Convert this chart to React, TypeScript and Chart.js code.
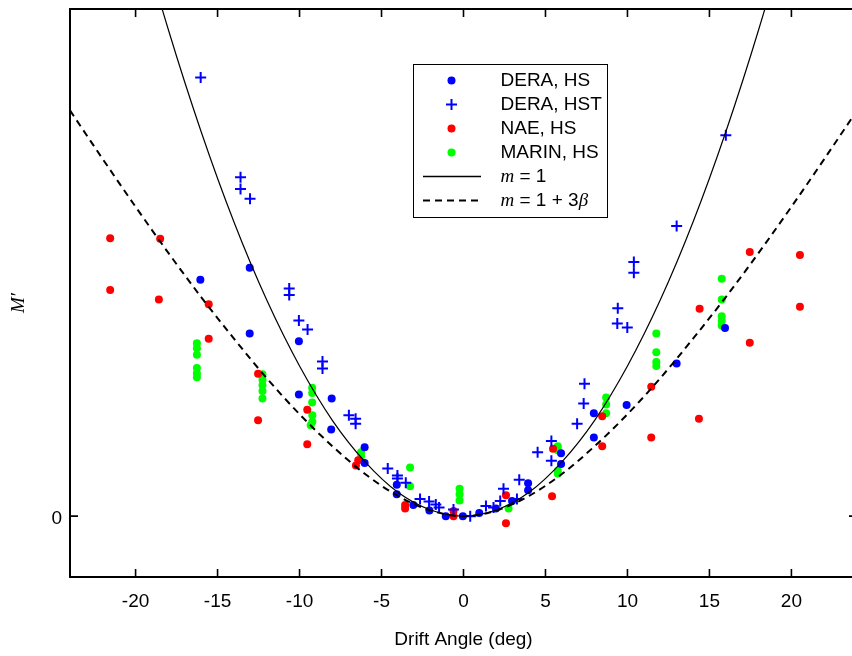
import React, { useEffect, useRef } from "react";
import { Chart, registerables } from "chart.js";

Chart.register(...registerables);

// ---------- data ----------
const xTickValues = [-20, -15, -10, -5, 0, 5, 10, 15, 20];
const yTickValues = [0];
const xTitle = "Drift Angle (deg)";
const yTitle = "M\u2032";

const deraHS: number[][] = [
  [-16.05, 0.466], [-13.04, 0.49], [-13.04, 0.36], [-10.04, 0.345], [-10.04, 0.24],
  [-8.04, 0.232], [-8.07, 0.171], [-6.03, 0.136], [-6.03, 0.105], [-4.07, 0.062],
  [-4.07, 0.043], [-3.06, 0.022], [-2.08, 0.011], [-1.08, 0.0], [-0.04, 0.0],
  [0.96, 0.006], [1.98, 0.015], [2.96, 0.03], [3.94, 0.065], [3.94, 0.051],
  [5.95, 0.124], [5.95, 0.103], [7.95, 0.203], [7.95, 0.155], [9.95, 0.219],
  [13.0, 0.301], [15.95, 0.371],
];

const deraHST: number[][] = [
  [-16.03, 0.865], [-13.6, 0.668], [-13.6, 0.645], [-13.02, 0.626], [-10.63, 0.449],
  [-10.63, 0.436], [-10.04, 0.386], [-9.51, 0.368], [-8.6, 0.305], [-8.6, 0.291],
  [-6.99, 0.199], [-6.58, 0.192], [-6.58, 0.182], [-4.62, 0.094], [-4.03, 0.08],
  [-4.03, 0.074], [-3.52, 0.066], [-2.65, 0.034], [-2.1, 0.029], [-1.69, 0.023],
  [-1.49, 0.017], [-0.61, 0.013], [0.41, 0.0], [1.37, 0.02], [1.83, 0.017],
  [2.24, 0.03], [2.44, 0.054], [3.26, 0.034], [3.4, 0.072], [4.52, 0.126],
  [5.36, 0.148], [5.36, 0.109], [6.93, 0.182], [7.33, 0.222], [7.38, 0.261],
  [9.41, 0.41], [9.38, 0.38], [9.99, 0.372], [10.39, 0.501], [10.39, 0.48],
  [13.0, 0.572], [16.0, 0.751],
];

const naeHS: number[][] = [
  [-21.55, 0.548], [-21.55, 0.446], [-18.5, 0.547], [-18.58, 0.427], [-15.54, 0.418],
  [-15.54, 0.35], [-12.53, 0.281], [-12.53, 0.189], [-9.53, 0.21], [-9.53, 0.142],
  [-6.42, 0.11], [-6.56, 0.1], [-3.56, 0.022], [-3.56, 0.015], [-0.61, 0.01],
  [-0.61, 0.0], [2.59, 0.041], [2.59, -0.014], [5.46, 0.133], [5.4, 0.039],
  [8.46, 0.197], [8.46, 0.138], [11.45, 0.255], [11.45, 0.155], [14.4, 0.409],
  [14.36, 0.192], [17.46, 0.521], [17.46, 0.342], [20.52, 0.515], [20.52, 0.413],
];

const marinHS: number[][] = [
  [-16.26, 0.341], [-16.26, 0.331], [-16.26, 0.318], [-16.26, 0.292], [-16.26, 0.282], [-16.26, 0.274],
  [-12.26, 0.28], [-12.26, 0.269], [-12.26, 0.258], [-12.26, 0.247], [-12.26, 0.232],
  [-9.23, 0.253], [-9.23, 0.243], [-9.23, 0.224], [-9.22, 0.199], [-9.22, 0.186], [-9.32, 0.179],
  [-6.25, 0.126], [-6.25, 0.118], [-3.26, 0.096], [-3.26, 0.059],
  [-0.24, 0.054], [-0.24, 0.043], [-0.24, 0.031], [2.75, 0.015],
  [5.75, 0.138], [5.75, 0.13], [5.75, 0.089], [5.75, 0.084],
  [8.7, 0.234], [8.7, 0.22], [8.7, 0.203],
  [11.76, 0.36], [11.76, 0.323], [11.76, 0.304], [11.76, 0.296],
  [15.75, 0.468], [15.75, 0.427], [15.75, 0.394], [15.75, 0.385], [15.75, 0.376],
];

// curves at 2-degree steps
const curveX = [-24, -22, -20, -18, -16, -14, -12, -10, -8, -6, -4, -2, 0, 2, 4, 6, 8, 10, 12, 14, 16, 18, 20, 22, 24];
const curveM1 = [1.705, 1.433, 1.184, 0.959, 0.758, 0.58, 0.426, 0.296, 0.189, 0.107, 0.047, 0.012, 0, 0.012, 0.047, 0.107, 0.189, 0.296, 0.426, 0.58, 0.758, 0.959, 1.184, 1.433, 1.705];
const curveM3b = [0.8, 0.704, 0.61, 0.519, 0.432, 0.35, 0.272, 0.201, 0.138, 0.083, 0.04, 0.011, 0, 0.011, 0.04, 0.083, 0.138, 0.201, 0.272, 0.35, 0.432, 0.519, 0.61, 0.704, 0.8];

// ---------- helpers ----------
const toPts = (arr: number[][]) => arr.map(([x, y]) => ({ x, y }));
const curvePts = (ys: number[]) => curveX.map((x, i) => ({ x, y: ys[i] }));

const SANS = "'Liberation Sans', Arial, sans-serif";
const SERIF = "'Liberation Serif', 'Times New Roman', serif";
const BLUE = "#0000ff";
const RED = "#ff0000";
const GREEN = "#00ff00";

const legendItems = [
  { kind: "dot", color: BLUE, parts: [{ t: "DERA, HS", it: false }] },
  { kind: "cross", color: BLUE, parts: [{ t: "DERA, HST", it: false }] },
  { kind: "dot", color: RED, parts: [{ t: "NAE, HS", it: false }] },
  { kind: "dot", color: GREEN, parts: [{ t: "MARIN, HS", it: false }] },
  { kind: "solid", color: "#000", parts: [{ t: "m", it: true }, { t: " = 1", it: false }] },
  { kind: "dashed", color: "#000", parts: [{ t: "m", it: true }, { t: " = 1 + 3", it: false }, { t: "\u03b2", it: true }] },
];

const framePlugin = {
  id: "frameAndLegend",
  afterDatasetsDraw(chart: any) {
    const { ctx, chartArea } = chart;
    const { left, right, top, bottom } = chartArea;
    const xs = chart.scales.x;
    const ys = chart.scales.y;
    ctx.save();
    ctx.strokeStyle = "#000";
    ctx.lineWidth = 2;
    ctx.strokeRect(left, top, right - left, bottom - top);
    ctx.lineWidth = 1.6;
    ctx.beginPath();
    for (const v of xTickValues) {
      const px = xs.getPixelForValue(v);
      ctx.moveTo(px, bottom);
      ctx.lineTo(px, bottom - 8);
      ctx.moveTo(px, top);
      ctx.lineTo(px, top + 8);
    }
    for (const v of yTickValues) {
      const py = ys.getPixelForValue(v);
      ctx.moveTo(left, py);
      ctx.lineTo(left + 8, py);
      ctx.moveTo(right, py);
      ctx.lineTo(right - 8, py);
    }
    ctx.stroke();
    ctx.restore();
  },
  afterDraw(chart: any) {
    const ctx = chart.ctx;
    ctx.save();
    // y title
    ctx.fillStyle = "#000";
    ctx.font = `italic 19px ${SERIF}`;
    ctx.textAlign = "center";
    ctx.textBaseline = "middle";
    ctx.translate(19, 303);
    ctx.rotate(-Math.PI / 2);
    ctx.fillText(yTitle, 0, 0);
    ctx.restore();

    // legend
    ctx.save();
    const bx = 413.5, by = 64.5, bw = 194, bh = 153;
    ctx.fillStyle = "#fff";
    ctx.fillRect(bx, by, bw, bh);
    ctx.strokeStyle = "#000";
    ctx.lineWidth = 1;
    ctx.strokeRect(bx, by, bw, bh);
    const mx = 451.5;
    const tx = 500.5;
    legendItems.forEach((it, i) => {
      const ry = 80.5 + i * 24;
      if (it.kind === "dot") {
        ctx.fillStyle = it.color;
        ctx.beginPath();
        ctx.arc(mx, ry, 4, 0, Math.PI * 2);
        ctx.fill();
      } else if (it.kind === "cross") {
        ctx.strokeStyle = it.color;
        ctx.lineWidth = 2;
        ctx.setLineDash([]);
        ctx.beginPath();
        ctx.moveTo(mx - 5.5, ry);
        ctx.lineTo(mx + 5.5, ry);
        ctx.moveTo(mx, ry - 5.5);
        ctx.lineTo(mx, ry + 5.5);
        ctx.stroke();
      } else {
        ctx.strokeStyle = "#000";
        ctx.lineWidth = it.kind === "solid" ? 1.5 : 2;
        ctx.setLineDash(it.kind === "dashed" ? [7, 5] : []);
        ctx.beginPath();
        ctx.moveTo(423, ry);
        ctx.lineTo(481, ry);
        ctx.stroke();
        ctx.setLineDash([]);
      }
      ctx.fillStyle = "#000";
      ctx.textAlign = "left";
      ctx.textBaseline = "middle";
      let cx = tx;
      for (const p of it.parts) {
        ctx.font = p.it ? `italic 19px ${SERIF}` : `19px ${SANS}`;
        ctx.fillText(p.t, cx, ry);
        cx += ctx.measureText(p.t).width;
      }
    });
    ctx.restore();
  },
};

export default function App() {
  const ref = useRef<HTMLCanvasElement | null>(null);

  useEffect(() => {
    if (!ref.current) return;
    Chart.defaults.color = "#000";
    Chart.defaults.font.family = SANS;
    Chart.defaults.font.size = 19;

    const pointDs = (label: string, data: number[][], color: string, cross: boolean, order: number) => ({
      type: "scatter" as const,
      label,
      data: toPts(data),
      pointStyle: cross ? "cross" : "circle",
      pointRadius: cross ? 5.5 : 4,
      pointHoverRadius: cross ? 5.5 : 4,
      backgroundColor: color,
      borderColor: color,
      borderWidth: cross ? 2 : 0,
      showLine: false,
      order,
    });

    const chart = new Chart(ref.current, {
      type: "scatter",
      data: {
        datasets: [
          {
            type: "scatter",
            label: "m = 1",
            data: curvePts(curveM1),
            showLine: true,
            borderColor: "#000",
            borderWidth: 1.2,
            pointRadius: 0,
            cubicInterpolationMode: "monotone",
            order: 0,
          } as any,
          {
            type: "scatter",
            label: "m = 1 + 3\u03b2",
            data: curvePts(curveM3b),
            showLine: true,
            borderColor: "#000",
            borderWidth: 2,
            borderDash: [7, 5],
            pointRadius: 0,
            cubicInterpolationMode: "monotone",
            order: 0,
          } as any,
          pointDs("NAE, HS", naeHS, RED, false, 2),
          pointDs("MARIN, HS", marinHS, GREEN, false, 3),
          pointDs("DERA, HS", deraHS, BLUE, false, 1),
          pointDs("DERA, HST", deraHST, BLUE, true, 1),
        ] as any,
      },
      options: {
        animation: false,
        responsive: true,
        maintainAspectRatio: false,
        devicePixelRatio: 1,
        layout: { padding: { top: 9, right: 15, left: 0, bottom: 0 } },
        plugins: {
          legend: { display: false },
          tooltip: { enabled: false },
        },
        scales: {
          x: {
            type: "linear",
            min: -24,
            max: 24,
            afterBuildTicks: (s: any) => {
              s.ticks = xTickValues.map((v) => ({ value: v }));
            },
            afterFit: (s: any) => {
              s.height = 79;
              s.paddingLeft = 0;
              s.paddingRight = 0;
            },
            grid: { display: false, drawTicks: false },
            border: { display: false },
            ticks: { autoSkip: false, maxRotation: 0, padding: 13, font: { size: 19, family: SANS } },
            title: {
              display: true,
              text: xTitle,
              font: { size: 19, family: SANS },
              padding: { top: 0, bottom: 5 },
            },
          },
          y: {
            type: "linear",
            min: -0.12,
            max: 1.0,
            afterBuildTicks: (s: any) => {
              s.ticks = yTickValues.map((v) => ({ value: v }));
            },
            afterFit: (s: any) => {
              s.width = 70;
              s.paddingTop = 0;
              s.paddingBottom = 0;
            },
            grid: { display: false, drawTicks: false },
            border: { display: false },
            ticks: { padding: 8, labelOffset: 3, font: { size: 19, family: SANS } },
          },
        },
      } as any,
      plugins: [framePlugin],
    });
    return () => chart.destroy();
  }, []);

  return (
    <div style={{ position: "absolute", left: 0, top: 0, width: 852, height: 656, overflow: "hidden", background: "#fff" }}>
      <div style={{ position: "relative", width: 872, height: 656 }}>
        <canvas ref={ref} />
      </div>
    </div>
  );
}
